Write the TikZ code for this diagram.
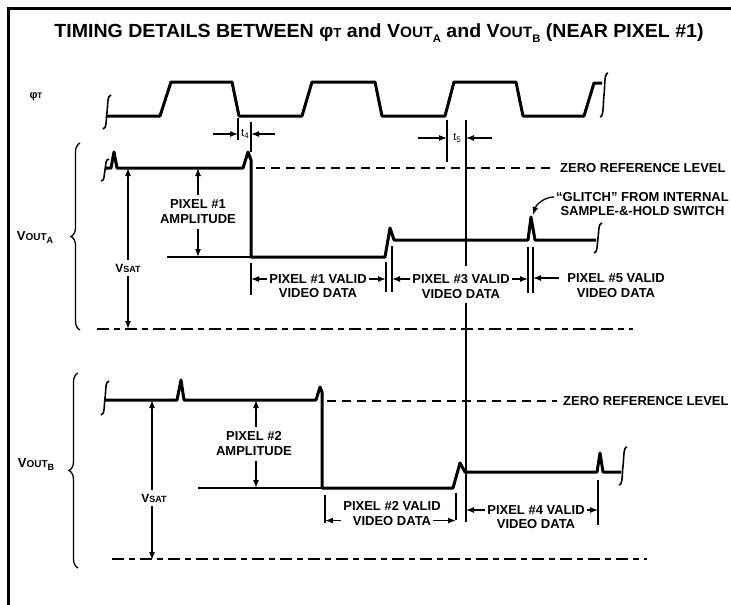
\documentclass[tikz,border=0pt]{standalone}
\usepackage{graphicx}
\usepackage{fontspec}
\setmainfont{Liberation Sans}
\usetikzlibrary{arrows.meta,positioning,calc,decorations.pathreplacing}
\newcommand{\fsz}[1]{\fontsize{#1}{#1}\selectfont}
\newcommand{\Vo}[1]{V{\fsz{10}OUT}\raisebox{-3pt}{\fsz{9}#1}}
\newcommand{\Vt}[1]{V{\fsz{15}OUT}\raisebox{-5pt}{\fsz{11}#1}}
% break mark at the end of a trace
\newcommand{\brk}[3]{\draw[brk] (#1+4,#2-#3) .. controls (#1,#2-#3) and (#1+1,#2-#3/3) .. (#1,#2) .. controls (#1-1,#2+#3/3) and (#1,#2+#3) .. (#1-4,#2+#3);}

\begin{document}
\begin{tikzpicture}[x=1pt,y=-1pt,>={Latex[length=8pt,width=6pt]},
  wave/.style={line width=3pt,line join=round},
  thin/.style={line width=1.3pt},
  brk/.style={line width=1.6pt},
  zeroref/.style={line width=1.5pt,dash pattern=on 9pt off 6pt},
  floor/.style={line width=1.5pt,dash pattern=on 12pt off 5pt on 6pt off 5pt},
  dim/.style={->,line width=1.3pt},
  lbl/.style={font=\bfseries\fontsize{13}{15}\selectfont,inner sep=0pt,align=center},
  tlbl/.style={font=\fsz{11},inner sep=1pt}]
\useasboundingbox (0,0) rectangle (731,605);
\draw[line width=3.5pt] (731,8.5) -- (8.5,8.5) -- (8.5,605);

\node[font=\bfseries\fsz{19}] (title) at (379,33)
  {\scalebox{1.03}[1]{TIMING DETAILS BETWEEN φ{\fsz{13}T} and \Vt{A} and \Vt{B} (NEAR PIXEL \#1)}};

% phi T clock
\node[font=\bfseries\fsz{11}] (phit) at (36,97) {φ{\fsz{8}T}};
\brk{107}{112}{17}
\draw[wave] (107,116) -- (160,116) -- (171,82) -- (232,82) -- (239,116) -- (302,116) -- (312,82)
  -- (375,82) -- (382,116) -- (445,116) -- (454,82) -- (516,82) -- (523,116) -- (584,116)
  -- (594,83) -- (602,83);
\brk{604}{95}{22}

% t4 and t5
\coordinate (t4l) at (238,118);
\coordinate (t4r) at (251,122);
\coordinate (t5l) at (447,120);
\coordinate (t5r) at (466,120);
\node[tlbl] (t4) at (245,134) {t\raisebox{-2pt}{\fsz{8}4}};
\node[tlbl] (t5) at (457,138) {t\raisebox{-2pt}{\fsz{8}5}};
\draw[thin] (t4l) -- ++(0,22);
\draw[thin] (t4r) -- ++(0,30);
\draw[dim] ($(t4l|-t4)+(-25,0)$) -- (t4l|-t4);
\draw[dim] ($(t4r|-t4)+(24,0)$) -- (t4r|-t4);
\draw[thin] (t5l) -- ++(0,42);
\draw[dim] ($(t5l|-t5)+(-29,0)$) -- (t5l|-t5);
\draw[dim] ($(t5r|-t5)+(26,0)$) -- (t5r|-t5);

% VOUT A
\node[font=\bfseries\fsz{13}] (voa) at (35,238) {\Vo{A}};
\draw[thin,decorate,decoration={brace,amplitude=9pt}] (80,330) -- (80,143);
\brk{105}{170}{11}
\draw[wave] (105,168) -- (111,168) -- (114,152) -- (117,168) -- (243,168) -- (248,152) -- (251,160)
  -- (251,257) -- (385,257) -- (390,228) -- (394,240) -- (528,240) -- (531,217) -- (535,240)
  -- (596,240);
\brk{598}{238}{15}
\node[lbl,anchor=west] (zra) at (560,168) {ZERO REFERENCE LEVEL};
\draw[zeroref] (256,168) -- ([xshift=-7pt]zra.west);
\draw[thin] (167,257) -- (251,257);
\draw[floor] (97,329) -- (633,329);

\coordinate (hiA) at (128,168);
\coordinate (flA) at (128,329);
\node[font=\bfseries\fsz{12},inner sep=4pt] (vsa) at (128,268) {V{\fsz{9}SAT}};
\draw[dim] (vsa.north) -- (hiA);
\draw[dim] (vsa.south) -- (flA);

\coordinate (ahA) at (198,168);
\coordinate (alA) at (198,257);
\node[lbl,inner sep=5pt] (ampa) at (198,212) {PIXEL \#1\\AMPLITUDE};
\draw[dim] (ampa.north) -- (ahA);
\draw[dim] (ampa.south) -- (alA);

\node[lbl,anchor=west] (gl1) at (556,197) {“GLITCH” FROM INTERNAL};
\node[lbl] (gl2) [below=4pt of gl1] {SAMPLE-\&-HOLD SWITCH};
\coordinate (gtip) at (533,215);
\draw[dim] ([xshift=-2pt]gl1.west) .. controls +(-10,0) and +(3,-10) .. (gtip);

\coordinate (tA1) at (251,263);
\coordinate (tA2) at (386,262);
\coordinate (tA3) at (392,246);
\coordinate (tA4) at (528,247);
\coordinate (tA5) at (533,247);
\draw[thin] (tA1) -- ++(0,32);
\draw[thin] (tA2) -- ++(0,30);
\draw[thin] (tA3) -- ++(0,46);
\draw[thin] (tA4) -- ++(0,46);
\draw[thin] (tA5) -- ++(0,46);

\node[lbl] (p1) at (318,279) {PIXEL \#1 VALID};
\node[lbl] (p1b) [below=5pt of p1] {VIDEO DATA};
\node[lbl] (p3) at (461,279) {PIXEL \#3 VALID};
\node[lbl] (p3b) [below=5pt of p3] {VIDEO DATA};
\node[lbl] (p5) at (616,278) {PIXEL \#5 VALID};
\node[lbl] (p5b) [below=5pt of p5] {VIDEO DATA};
\draw[dim] ([xshift=-2pt]p1.west) -- (p1.west -| tA1);
\draw[dim] ([xshift=2pt]p1.east) -- (p1.east -| tA2);
\draw[dim] ([xshift=-2pt]p3.west) -- (p3.west -| tA3);
\draw[dim] ([xshift=2pt]p3.east) -- (p3.east -| tA4);
\draw[dim] ([xshift=-8pt]p5.west) -- (p5.west -| tA5);

% long t5 line down to VOUT B
\draw[thin] (t5r) -- ([yshift=8pt]t5r |- p3.north);
\draw[thin] ([yshift=-5pt]t5r |- p3b.south) -- (466,522);

% VOUT B
\node[font=\bfseries\fsz{13}] (vob) at (36,465) {\Vo{B}};
\draw[thin,decorate,decoration={brace,amplitude=9pt}] (78,568) -- (78,373);
\brk{105}{398}{17}
\draw[wave] (105,400) -- (177,400) -- (181,380) -- (184,400) -- (316,400) -- (320,387) -- (322,392)
  -- (322,488) -- (453,488) -- (460,463) -- (465,472) -- (597,472) -- (600,453) -- (603,472)
  -- (621,472);
\brk{623}{466}{19}
\node[lbl,anchor=west] (zrb) at (563,401) {ZERO REFERENCE LEVEL};
\draw[zeroref] (327,401) -- ([xshift=-6pt]zrb.west);
\draw[thin] (198,488) -- (322,488);
\draw[floor] (112,559) -- (647,559);

\coordinate (hiB) at (152,400);
\coordinate (flB) at (152,560);
\node[font=\bfseries\fsz{12},inner sep=4pt] (vsb) at (154,498) {V{\fsz{9}SAT}};
\draw[dim] (vsb.north -| hiB) -- (hiB);
\draw[dim] (vsb.south -| flB) -- (flB);

\coordinate (ahB) at (256,400);
\coordinate (alB) at (256,488);
\node[lbl,inner sep=5pt] (ampb) at (254,444) {PIXEL \#2\\AMPLITUDE};
\draw[dim] (ampb.north -| ahB) -- (ahB);
\draw[dim] (ampb.south -| alB) -- (alB);

\coordinate (tB1) at (325,495);
\coordinate (tB2) at (456,493);
\coordinate (tB4) at (598,480);
\draw[thin] (tB1) -- ++(0,28);
\draw[thin] (tB2) -- ++(0,27);
\draw[thin] (tB4) -- ++(0,45);

\node[lbl] (p2) at (392,506) {PIXEL \#2 VALID};
\node[lbl] (p2b) [below=5pt of p2] {VIDEO DATA};
\node[lbl] (p4) at (536,510) {PIXEL \#4 VALID};
\node[lbl] (p4b) [below=5pt of p4] {VIDEO DATA};
\draw[dim] ([xshift=-2pt]p2.west |- p2b) -- (tB1 |- p2b);
\draw[dim] ([xshift=2pt]p2b.east) -- (tB2 |- p2b);
\draw[dim] ([xshift=-2pt]p4.west) -- (t5r |- p4);
\draw[dim] ([xshift=2pt]p4.east) -- (tB4 |- p4);
\end{tikzpicture}
\end{document}
